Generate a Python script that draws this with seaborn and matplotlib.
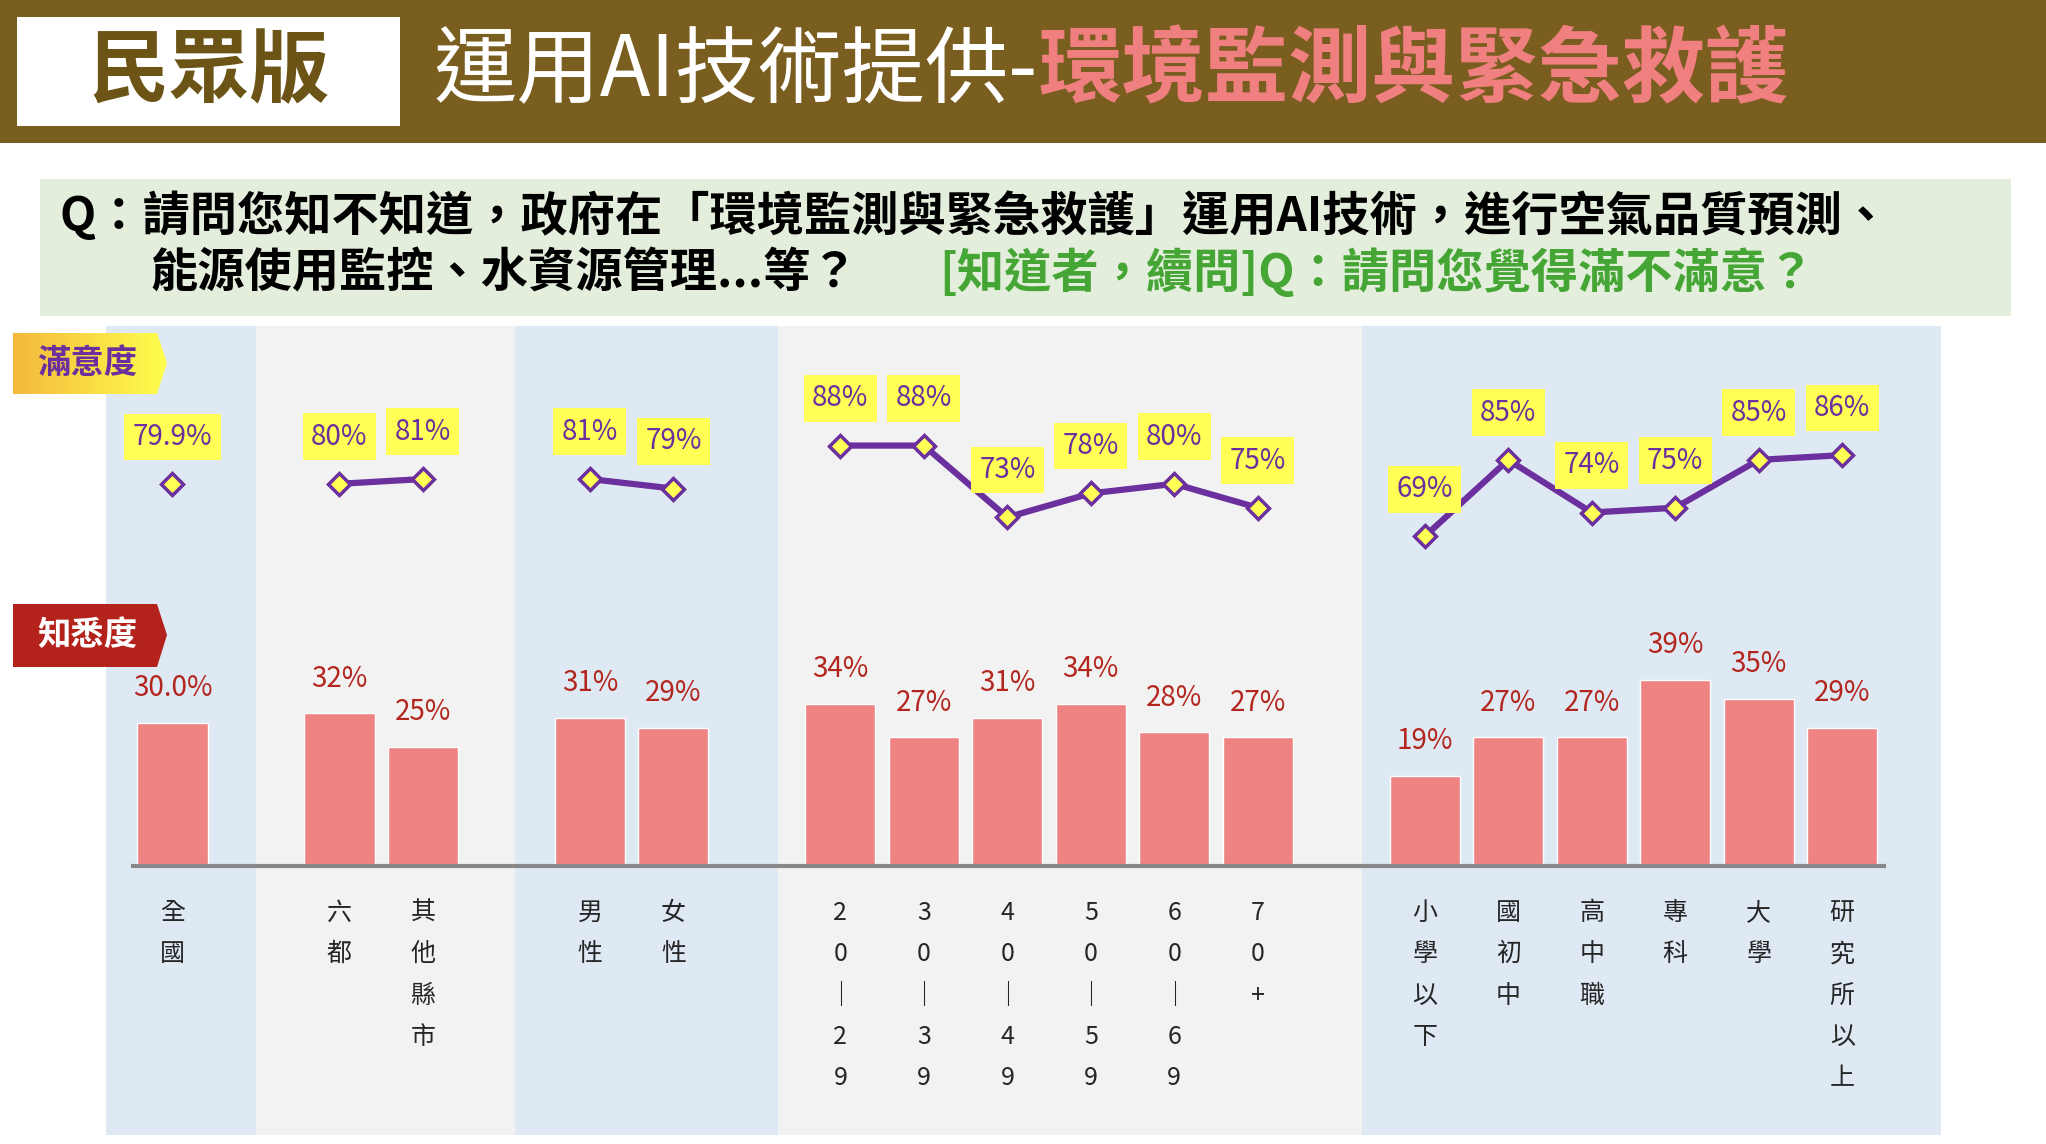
import numpy as np
import pandas as pd
import matplotlib
matplotlib.use("Agg")
import matplotlib.pyplot as plt
from matplotlib.patches import Polygon, Rectangle
import seaborn as sns

# data
labels = ['全國', '六都', '其他縣市', '男性', '女性',
          '20-29', '30-39', '40-49', '50-59', '60-69', '70+',
          '小學以下', '國初中', '高中職', '專科', '大學', '研究所以上']
groups = ['全國', '地區', '地區', '性別', '性別',
          '年齡', '年齡', '年齡', '年齡', '年齡', '年齡',
          '教育', '教育', '教育', '教育', '教育', '教育']
pos = [0, 2, 3, 5, 6, 8, 9, 10, 11, 12, 13, 15, 16, 17, 18, 19, 20]
aware = [30.0, 32, 25, 31, 29, 34, 27, 31, 34, 28, 27, 19, 27, 27, 39, 35, 29]
satis = [79.9, 80, 81, 81, 79, 88, 88, 73, 78, 80, 75, 69, 85, 74, 75, 85, 86]

df = pd.DataFrame({'label': labels, 'group': groups, 'pos': pos,
                   'aware': aware, 'satis': satis})

PURPLE = '#6B2F9E'
YELLOW = '#FFFF55'
BAR = '#EF8383'
RED_TXT = '#B3261E'
BLUE_BG = '#DFE9F4'
GRAY_BG = '#F2F2F2'

sns.set_style('white')
plt.rcParams['font.family'] = ['Noto Sans CJK TC', 'DejaVu Sans']

fig = plt.figure(figsize=(20.46, 11.44), dpi=100)
W, H = 2046, 1144
ax = fig.add_axes([105.7 / W, (H - 866.4) / H, (1941.5 - 105.7) / W, (866.4 - 326) / H], zorder=1)
ax.set_xlim(-0.8, 21.19)
ax.set_ylim(0, 113)

# background bands per group
bands = [(-0.8, 1.0, BLUE_BG), (1.0, 4.1, GRAY_BG), (4.1, 7.25, BLUE_BG),
         (7.25, 14.25, GRAY_BG), (14.25, 21.19, BLUE_BG)]
for x0, x1, c in bands:
    ax.axvspan(x0, x1, ymin=-0.497, ymax=1, color=c, lw=0, zorder=0, clip_on=False)

sns.barplot(data=df, x='pos', y='aware', native_scale=True, width=0.84,
            color=BAR, saturation=1, errorbar=None, ax=ax, zorder=2)
ax.hlines(0, -0.5, 20.53, color='#888888', lw=3, zorder=3, clip_on=False)

sns.lineplot(data=df, x='pos', y='satis', units='group', estimator=None,
             color=PURPLE, lw=4.5, marker='D', markersize=11,
             markerfacecolor=YELLOW, markeredgecolor=PURPLE, markeredgewidth=2.5,
             legend=False, ax=ax, zorder=4)

for i, row in df.iterrows():
    txt = f"{row.aware:.1f}%" if i == 0 else f"{row.aware:.0f}%"
    ax.annotate(txt, (row.pos, row.aware), xytext=(0, 25), textcoords='offset points',
                ha='center', va='center', fontsize=20, color=RED_TXT, zorder=5)
    stxt = f"{row.satis:.1f}%" if i == 0 else f"{row.satis:.0f}%"
    ax.annotate(stxt, (row.pos, row.satis), xytext=(0, 34), textcoords='offset points',
                ha='center', va='center', fontsize=20, color=PURPLE, zorder=6,
                bbox=dict(boxstyle='square,pad=0.3', fc=YELLOW, ec='none'))

def stack(s):
    return '\n'.join('｜' if ch == '-' else ch for ch in s)

ax.set_xticks(pos)
ax.set_xticklabels([stack(s) for s in labels], fontsize=18, linespacing=1.77, va='top')
ax.tick_params(axis='x', length=0, pad=24)
ax.set_yticks([])
ax.set_xlabel('')
ax.set_ylabel('')
sns.despine(ax=ax, left=True, bottom=True)

# overlay in pixel coordinates: header, question, badges
ov = fig.add_axes([0, 0, 1, 1], zorder=5)
ov.set_xlim(0, W)
ov.set_ylim(H, 0)
ov.axis('off')

ov.add_patch(Rectangle((0, 0), W, 143, color='#7A5E1F', lw=0))
ov.add_patch(Rectangle((17, 17), 383, 109, color='white', lw=0))
ov.text(209, 73, '民眾版', fontsize=58, fontweight='bold', color='#6B5415',
        ha='center', va='center')
t1 = ov.text(434, 72, '運用AI技術提供-', fontsize=60, color='white',
             ha='left', va='center')
fig.canvas.draw()
bb = t1.get_window_extent()
ov.text(bb.x1, 72, '環境監測與緊急救護', fontsize=60, color='#F07F7F',
        fontweight='bold', ha='left', va='center')

ov.add_patch(Rectangle((40, 179), 1971, 137, color='#E4EEDC', lw=0))
ov.text(59, 216, 'Q：請問您知不知道，政府在「環境監測與緊急救護」運用AI技術，進行空氣品質預測、',
        fontsize=34, fontweight='bold', color='black', ha='left', va='center')
ov.text(150, 273, '能源使用監控、水資源管理...等？', fontsize=34, fontweight='bold',
        color='black', ha='left', va='center')
ov.text(939, 273, '[知道者，續問]Q：請問您覺得滿不滿意？', fontsize=34, fontweight='bold',
        color='#45A535', ha='left', va='center')

# 滿意度 badge with gradient
sat_poly = Polygon([(13, 333), (157, 333), (167, 363), (157, 394), (13, 394)],
                   closed=True, fc='none', ec='none')
ov.add_patch(sat_poly)
grad = np.linspace(0, 1, 256).reshape(1, -1)
cmap = matplotlib.colors.LinearSegmentedColormap.from_list('g', ['#F4B93C', '#FFFF4D'])
im = ov.imshow(grad, extent=(13, 167, 394, 333), cmap=cmap, aspect='auto', zorder=1)
im.set_clip_path(sat_poly)
ov.text(87, 363, '滿意度', fontsize=24, fontweight='bold', color=PURPLE,
        ha='center', va='center', zorder=2)
ov.set_xlim(0, W)
ov.set_ylim(H, 0)

ov.add_patch(Polygon([(13, 604), (157, 604), (167, 635), (157, 667), (13, 667)],
                     closed=True, fc='#B3231B', ec='none'))
ov.text(87, 635, '知悉度', fontsize=24, fontweight='bold', color='white',
        ha='center', va='center', zorder=2)

fig.savefig('out.png', dpi=100)
